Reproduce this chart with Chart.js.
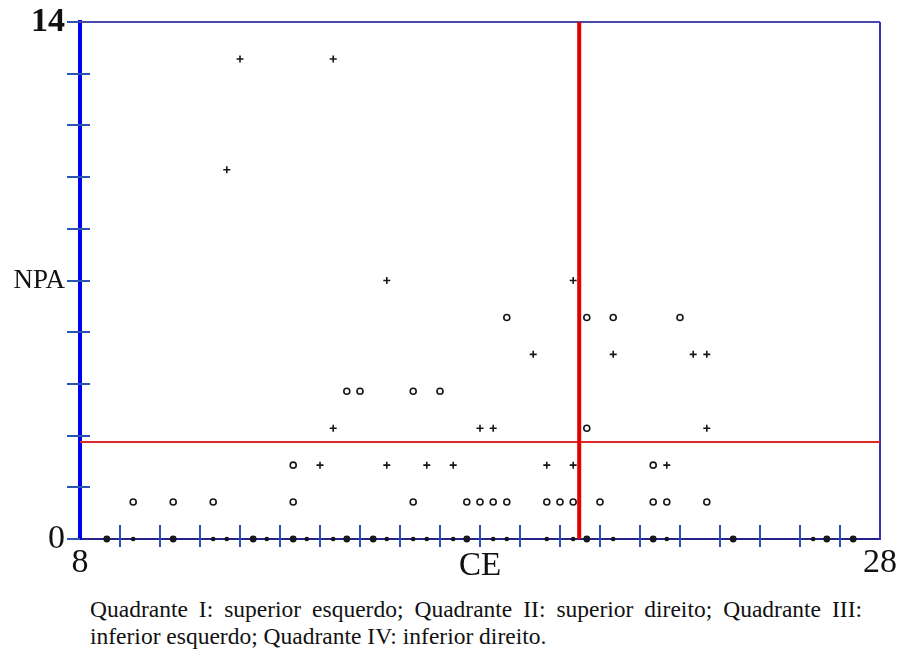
<!DOCTYPE html>
<html>
<head>
<meta charset="utf-8">
<script src="https://cdn.jsdelivr.net/npm/chart.js@4"></script>
<style>
    html, body { margin: 0; padding: 0; background: #fff; }
    #wrap { position: relative; width: 906px; height: 662px; overflow: hidden; }
    #chart { position: absolute; left: 0; top: 0; }
    #caption {
        position: absolute; left: 90px; top: 596px; width: 772px;
        font-family: 'Liberation Serif', 'Times New Roman', serif;
        font-size: 23.5px; line-height: 27px; color: #111;
    }
    #caption .l1 { text-align: justify; text-align-last: justify; }
</style>
</head>
<body>
<div id="wrap">
    <canvas id="chart" width="906" height="590"></canvas>
    <div id="caption">
        <div class="l1">Quadrante I: superior esquerdo; Quadrante II: superior direito; Quadrante III:</div>
        <div>inferior esquerdo; Quadrante IV: inferior direito.</div>
    </div>
</div>
<script>
// eixos
const ceMin = 8;
const ceMax = 28;
const npaMin = 0;
const npaMax = 14;
const xTitle = 'CE';
const xTickValues = [8, 9, 10, 11, 12, 13, 14, 15, 16, 17, 18, 19, 20, 21, 22, 23, 24, 25, 26, 27, 28];
const xTickLabels = ['8', '', '', '', '', '', '', '', '', '', '', '', '', '', '', '', '', '', '', '', '28'];
const yTickValues = [0, 1.4, 2.8, 4.2, 5.6, 7, 8.4, 9.8, 11.2, 12.6, 14];
const yTickLabels = ['0', '', '', '', '', 'NPA', '', '', '', '', '14'];

// linhas de corte (quadrantes)
const ceCutoff = 20.48;
const npaCutoff = 2.63;

// grupo "o"
const circleCE = [
    8.67, 10.33, 12.33, 13.33, 14.67, 15.33, 17.67, 20.67, 22.33, 24.33, 26.67, 27.33,
    9.33, 10.33, 11.33, 13.33, 16.33, 17.67, 18.0, 18.33, 18.67, 19.67, 20.0, 20.33, 21.0, 22.33, 22.67, 23.67,
    13.33, 22.33,
    20.67,
    14.67, 15.0, 16.33, 17.0,
    18.67, 20.67, 21.33, 23.0
];
const circleNPA = [
    0, 0, 0, 0, 0, 0, 0, 0, 0, 0, 0, 0,
    1, 1, 1, 1, 1, 1, 1, 1, 1, 1, 1, 1, 1, 1, 1, 1,
    2, 2,
    3,
    4, 4, 4, 4,
    6, 6, 6, 6
];

// grupo "+"
const crossCE = [
    9.33, 11.33, 11.67, 12.67, 13.67, 14.33, 15.67, 16.33, 16.67, 17.33, 18.33, 18.67, 19.67, 20.33, 21.33, 22.67, 26.33,
    14.0, 15.67, 16.67, 17.33, 19.67, 20.33, 22.67,
    14.33, 18.0, 18.33, 23.67,
    19.33, 21.33, 23.33, 23.67,
    15.67, 20.33,
    11.67,
    12.0, 14.33
];
const crossNPA = [
    0, 0, 0, 0, 0, 0, 0, 0, 0, 0, 0, 0, 0, 0, 0, 0, 0,
    2, 2, 2, 2, 2, 2, 2,
    3, 3, 3, 3,
    5, 5, 5, 5,
    7, 7,
    10,
    13, 13
];

const serif = "'Liberation Serif', serif";
const toPoints = (xs, ys) => xs.map((x, i) => ({ x, y: ys[i] }));
const onAxis = (ctx) => ctx.raw && ctx.raw.y === 0;

// moldura superior/direita e traços dos eixos cruzando a linha
const frameTicks = {
    id: 'frameTicks',
    beforeDatasetsDraw(chart) {
        const { ctx, chartArea: a, scales } = chart;
        ctx.save();
        ctx.lineWidth = 2;
        ctx.strokeStyle = '#4a4aa8';
        ctx.beginPath();
        ctx.moveTo(a.left, a.top);
        ctx.lineTo(a.right, a.top);
        ctx.stroke();
        ctx.strokeStyle = '#3434c4';
        ctx.beginPath();
        ctx.moveTo(a.right, a.top);
        ctx.lineTo(a.right, a.bottom);
        ctx.stroke();

        ctx.strokeStyle = '#2c52b4';
        xTickValues.forEach((v) => {
            if (v === ceMin || v === ceMax) return;
            const px = Math.round(scales.x.getPixelForValue(v));
            ctx.beginPath();
            ctx.moveTo(px, a.bottom - 14);
            ctx.lineTo(px, a.bottom + 8);
            ctx.stroke();
        });
        yTickValues.forEach((v) => {
            const py = Math.round(scales.y.getPixelForValue(v));
            ctx.beginPath();
            ctx.moveTo(a.left - 13, py);
            ctx.lineTo(v === npaMin || v === npaMax ? a.left : a.left + 10, py);
            ctx.stroke();
        });
        ctx.restore();
    }
};

new Chart(document.getElementById('chart'), {
    type: 'scatter',
    data: {
        datasets: [
            {
                label: 'corte CE',
                data: [{ x: ceCutoff, y: npaMin }, { x: ceCutoff, y: npaMax }],
                showLine: true,
                borderColor: '#e40000',
                borderWidth: 4,
                pointRadius: 0,
                clip: false,
                order: 3
            },
            {
                label: 'corte NPA',
                data: [{ x: ceMin, y: npaCutoff }, { x: ceMax, y: npaCutoff }],
                showLine: true,
                borderColor: '#e02828',
                borderWidth: 2,
                pointRadius: 0,
                clip: false,
                order: 4
            },
            {
                label: 'o',
                data: toPoints(circleCE, circleNPA),
                pointStyle: 'circle',
                pointRadius: (ctx) => onAxis(ctx) ? 2.6 : 3,
                pointBorderWidth: 1.6,
                pointBorderColor: '#161616',
                pointBackgroundColor: (ctx) => onAxis(ctx) ? '#161630' : '#ffffff',
                clip: false,
                order: 1
            },
            {
                label: '+',
                data: toPoints(crossCE, crossNPA),
                pointStyle: (ctx) => onAxis(ctx) ? 'circle' : 'cross',
                pointRadius: (ctx) => onAxis(ctx) ? 1.5 : 3.5,
                pointBorderWidth: 1.6,
                pointBorderColor: '#161616',
                pointBackgroundColor: '#161616',
                clip: false,
                order: 2
            }
        ]
    },
    options: {
        responsive: false,
        animation: false,
        devicePixelRatio: 1,
        layout: { padding: { top: 22, right: 26, left: 0, bottom: 0 } },
        plugins: {
            legend: { display: false },
            tooltip: { enabled: false }
        },
        scales: {
            x: {
                type: 'linear',
                min: ceMin,
                max: ceMax,
                afterBuildTicks: (scale) => { scale.ticks = xTickValues.map((value) => ({ value })); },
                afterFit: (scale) => {
                    scale.height = 51;
                    scale.paddingLeft = 0;
                    scale.paddingRight = 0;
                },
                grid: { display: false, drawTicks: false },
                border: { display: true, color: '#24248c', width: 2 },
                title: {
                    display: true,
                    text: xTitle,
                    color: '#111',
                    font: { family: serif, size: 33 },
                    padding: { top: 0, bottom: 4 }
                },
                ticks: {
                    autoSkip: false,
                    maxRotation: 0,
                    padding: 4,
                    color: '#111',
                    font: { family: serif, size: 34 },
                    callback: (value, index) => xTickLabels[index]
                }
            },
            y: {
                type: 'linear',
                min: npaMin,
                max: npaMax,
                afterBuildTicks: (scale) => { scale.ticks = yTickValues.map((value) => ({ value })); },
                afterFit: (scale) => {
                    scale.width = 80;
                    scale.paddingTop = 0;
                    scale.paddingBottom = 0;
                },
                grid: { display: false, drawTicks: false },
                border: { display: true, color: '#0000f0', width: 4 },
                ticks: {
                    autoSkip: false,
                    padding: 15,
                    color: '#111',
                    font: (ctx) => {
                        const label = yTickLabels[ctx.index];
                        if (label === '14') return { family: serif, size: 34, weight: 'bold' };
                        if (label === 'NPA') return { family: serif, size: 27 };
                        return { family: serif, size: 34 };
                    },
                    callback: (value, index) => yTickLabels[index]
                }
            }
        }
    },
    plugins: [frameTicks]
});
</script>
</body>
</html>
